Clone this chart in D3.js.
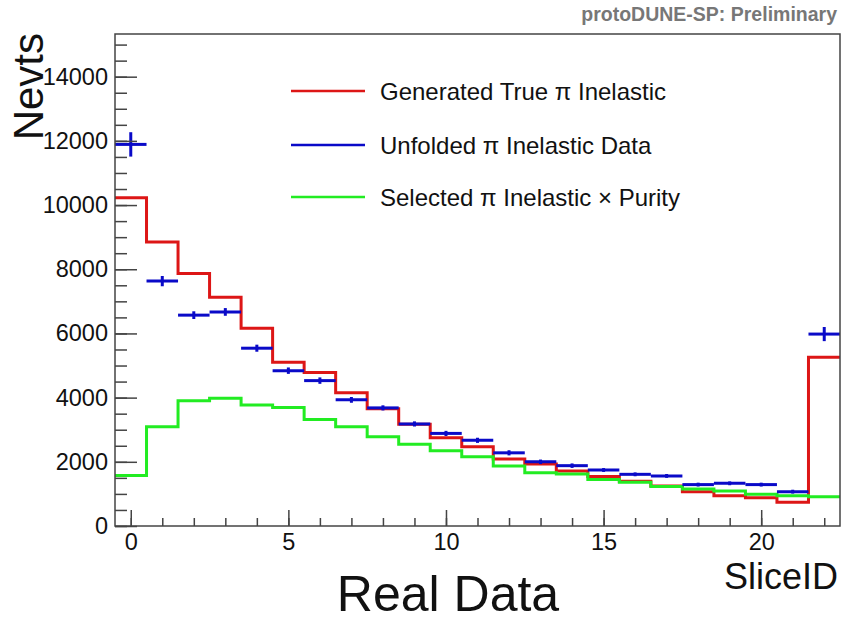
<!DOCTYPE html>
<html>
<head>
<meta charset="utf-8">
<script src="https://cdn.jsdelivr.net/npm/d3@7"></script>
<style>
  html, body { margin: 0; padding: 0; background: #fff; }
  svg { display: block; font-family: "Liberation Sans", Arial, Helvetica, sans-serif; }
</style>
</head>
<body>
<svg id="chart" width="847" height="622"></svg>
<script>
// Slice IDs (bin centres) of the pion inelastic histogram
const sliceIds = d3.range(0, 23);

// Generated true pi inelastic events per slice
const generatedTrue = [10230, 8850, 7870, 7130, 6160, 5100, 4780, 4150, 3650, 3170, 2750, 2470, 2090, 1930, 1710, 1540, 1395, 1250, 1070, 945, 882, 740, 5260];

// Unfolded pi inelastic data and its statistical uncertainty
const unfoldedData = [11890, 7630, 6570, 6670, 5540, 4840, 4530, 3930, 3680, 3180, 2885, 2670, 2280, 2000, 1880, 1745, 1610, 1560, 1290, 1330, 1290, 1070, 5980];
const unfoldedErr  = [380, 160, 120, 120, 110, 100, 100, 90, 80, 80, 80, 80, 80, 70, 70, 60, 60, 60, 60, 60, 60, 60, 220];

// Selected pi inelastic events times purity
const selectedPurity = [1570, 3090, 3900, 3980, 3770, 3690, 3320, 3090, 2780, 2545, 2345, 2160, 1870, 1660, 1620, 1450, 1360, 1230, 1150, 1090, 990, 940, 910];

// Axis tick definitions
const xMajorTicks = [0, 5, 10, 15, 20];
const xMinorTicks = d3.range(0, 23);
const yMajorTicks = [0, 2000, 4000, 6000, 8000, 10000, 12000, 14000];
const yMinorTicks = d3.range(0, 15001, 500);

const legendLabels = ["Generated True \u03C0 Inelastic", "Unfolded \u03C0 Inelastic Data", "Selected \u03C0 Inelastic \u00D7 Purity"];

const colors = { red: "#dd1616", blue: "#0a0ac8", green: "#22ec22", frame: "#444" };

const svg = d3.select("#chart");
const frame = { left: 115, right: 840, top: 34, bottom: 526 };

const x = d3.scaleLinear().domain([-0.5, 22.5]).range([frame.left, frame.right]);
const y = d3.scaleLinear().domain([0, 15330]).range([frame.bottom, frame.top]);

// Plot-area clip so step lines stay inside the frame
svg.append("clipPath").attr("id", "plotClip")
  .append("rect")
  .attr("x", frame.left).attr("y", frame.top)
  .attr("width", frame.right - frame.left).attr("height", frame.bottom - frame.top);

// Histogram drawn as a step outline across bin edges
function stepPoints(values) {
  const pts = values.map((v, i) => [sliceIds[i] - 0.5, v]);
  pts.push([sliceIds[sliceIds.length - 1] + 0.5, values[values.length - 1]]);
  return pts;
}
const stepLine = d3.line()
  .x(d => x(d[0]))
  .y(d => y(d[1]))
  .curve(d3.curveStepAfter);

const plot = svg.append("g").attr("clip-path", "url(#plotClip)");

plot.append("path")
  .datum(stepPoints(generatedTrue))
  .attr("d", stepLine)
  .attr("fill", "none")
  .attr("stroke", colors.red)
  .attr("stroke-width", 3);

plot.append("path")
  .datum(stepPoints(selectedPurity))
  .attr("d", stepLine)
  .attr("fill", "none")
  .attr("stroke", colors.green)
  .attr("stroke-width", 3);

// Unfolded data: horizontal bin-width bar plus vertical error bar
const dataG = plot.append("g").attr("stroke", colors.blue).attr("stroke-width", 3);
dataG.selectAll("line.hbar")
  .data(sliceIds)
  .join("line")
  .attr("class", "hbar")
  .attr("x1", i => x(i - 0.5))
  .attr("x2", i => x(i + 0.5))
  .attr("y1", i => y(unfoldedData[i]))
  .attr("y2", i => y(unfoldedData[i]));
dataG.selectAll("line.ebar")
  .data(sliceIds)
  .join("line")
  .attr("class", "ebar")
  .attr("x1", i => x(i))
  .attr("x2", i => x(i))
  .attr("y1", i => y(unfoldedData[i] - unfoldedErr[i]))
  .attr("y2", i => y(unfoldedData[i] + unfoldedErr[i]));

// Axes: minor and major ticks point into the frame
function styleAxis(g) {
  g.select(".domain").remove();
  g.selectAll(".tick line").attr("stroke", colors.frame).attr("stroke-width", 1.5);
  g.selectAll(".tick text").attr("fill", "#111").attr("font-size", 23.5);
}

svg.append("g")
  .attr("transform", `translate(0,${frame.bottom})`)
  .call(d3.axisBottom(x).tickValues(xMinorTicks).tickSize(-8).tickFormat(""))
  .call(styleAxis);
svg.append("g")
  .attr("transform", `translate(0,${frame.bottom})`)
  .call(d3.axisBottom(x).tickValues(xMajorTicks).tickSize(-16).tickPadding(7).tickFormat(d3.format("d")))
  .call(styleAxis);

svg.append("g")
  .attr("transform", `translate(${frame.left},0)`)
  .call(d3.axisLeft(y).tickValues(yMinorTicks).tickSize(-12).tickFormat(""))
  .call(styleAxis);
svg.append("g")
  .attr("transform", `translate(${frame.left},0)`)
  .call(d3.axisLeft(y).tickValues(yMajorTicks).tickSize(-22).tickPadding(7).tickFormat(d3.format("d")))
  .call(styleAxis);

// Frame
svg.append("rect")
  .attr("x", frame.left).attr("y", frame.top)
  .attr("width", frame.right - frame.left).attr("height", frame.bottom - frame.top)
  .attr("fill", "none")
  .attr("stroke", colors.frame)
  .attr("stroke-width", 1.5);

// Axis titles
svg.append("text")
  .attr("transform", "translate(43,33) rotate(-90)")
  .attr("text-anchor", "end")
  .attr("font-size", 42)
  .attr("fill", "#111")
  .text("Nevts");

svg.append("text")
  .attr("x", 838).attr("y", 589)
  .attr("text-anchor", "end")
  .attr("font-size", 36)
  .attr("fill", "#111")
  .text("SliceID");

svg.append("text")
  .attr("x", 448).attr("y", 611)
  .attr("text-anchor", "middle")
  .attr("font-size", 50)
  .attr("fill", "#111")
  .text("Real Data");

svg.append("text")
  .attr("x", 837).attr("y", 21)
  .attr("text-anchor", "end")
  .attr("font-size", 19.5)
  .attr("font-weight", "bold")
  .attr("fill", "#777")
  .text("protoDUNE-SP: Preliminary");

// Legend
const legendColors = [colors.red, colors.blue, colors.green];
const legendY = [91, 145, 197];
const legend = svg.append("g");
legendLabels.forEach((label, i) => {
  legend.append("line")
    .attr("x1", 291).attr("x2", 365)
    .attr("y1", legendY[i]).attr("y2", legendY[i])
    .attr("stroke", legendColors[i])
    .attr("stroke-width", 2.5);
  legend.append("text")
    .attr("x", 380).attr("y", legendY[i])
    .attr("dy", "0.36em")
    .attr("font-size", 24)
    .attr("fill", "#111")
    .text(label);
});
</script>
</body>
</html>
